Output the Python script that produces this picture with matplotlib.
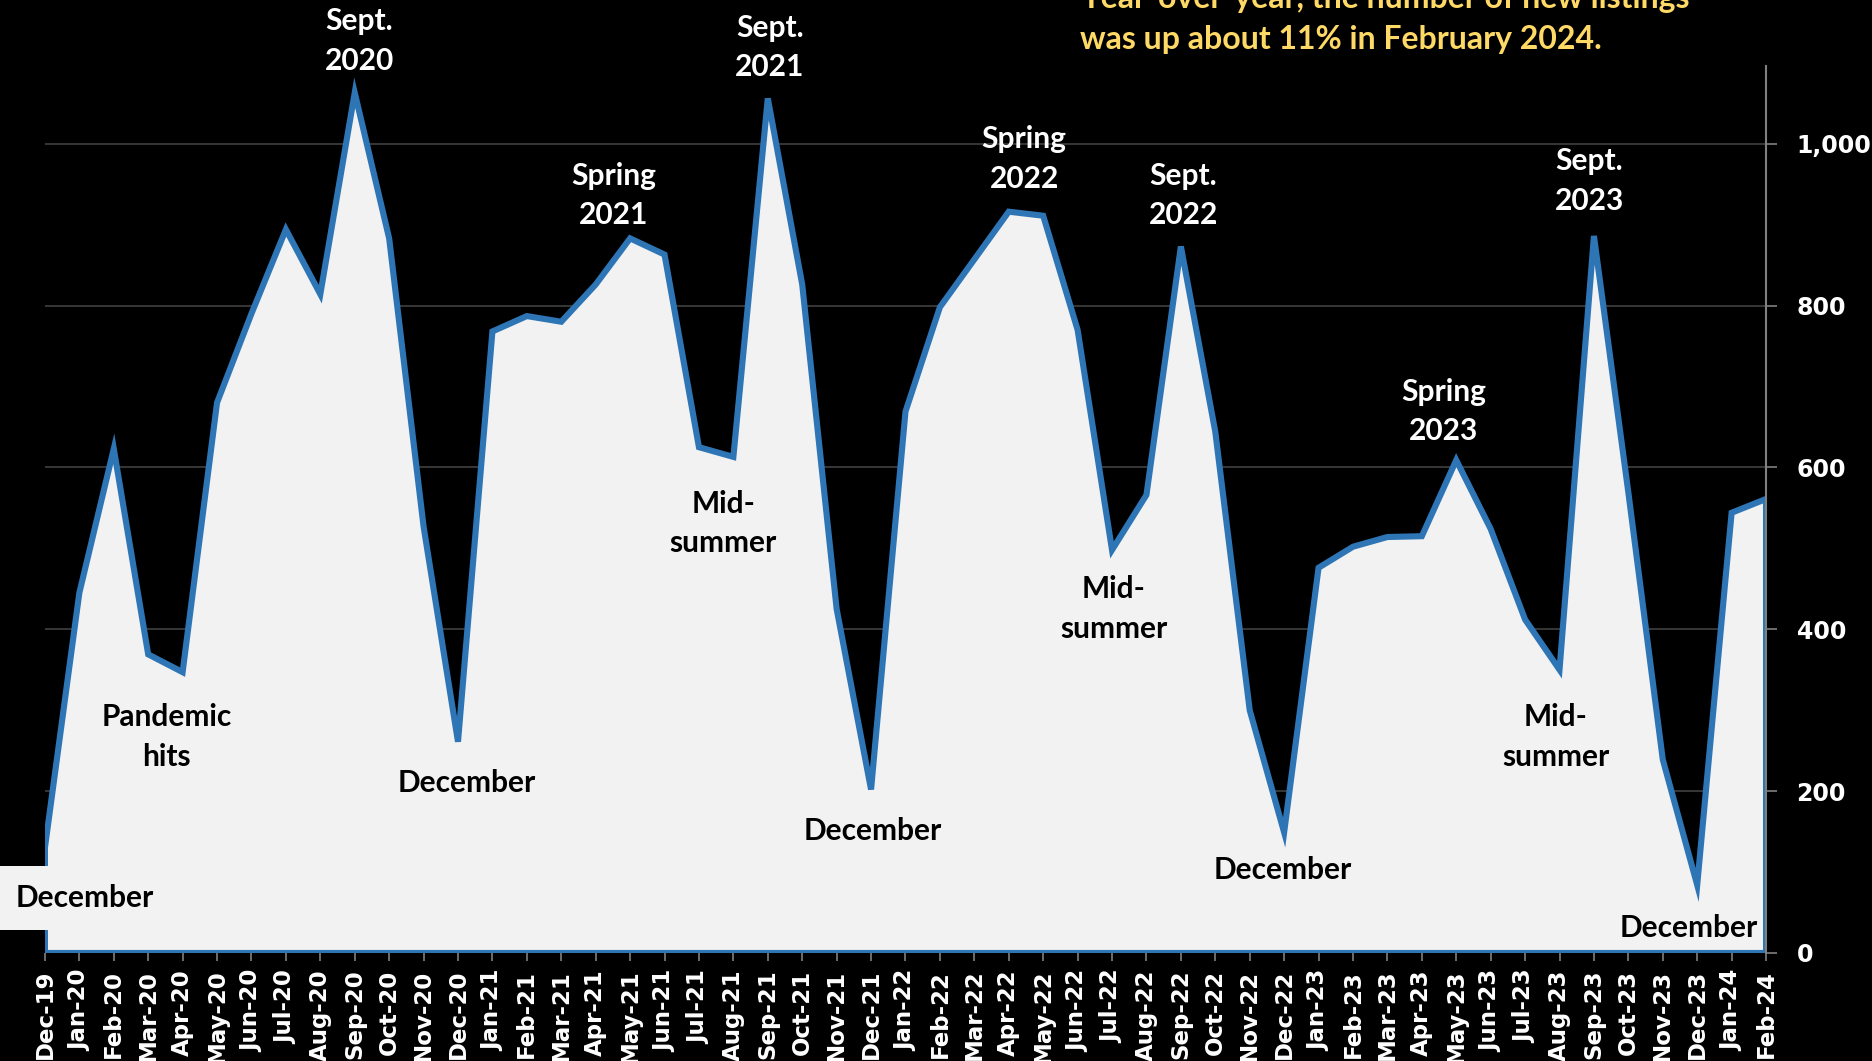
import matplotlib
matplotlib.use("Agg")
import matplotlib.pyplot as plt
import numpy as np

months = ["Dec-19", "Jan-20", "Feb-20", "Mar-20", "Apr-20", "May-20", "Jun-20", "Jul-20",
          "Aug-20", "Sep-20", "Oct-20", "Nov-20", "Dec-20", "Jan-21", "Feb-21", "Mar-21",
          "Apr-21", "May-21", "Jun-21", "Jul-21", "Aug-21", "Sep-21", "Oct-21", "Nov-21",
          "Dec-21", "Jan-22", "Feb-22", "Mar-22", "Apr-22", "May-22", "Jun-22", "Jul-22",
          "Aug-22", "Sep-22", "Oct-22", "Nov-22", "Dec-22", "Jan-23", "Feb-23", "Mar-23",
          "Apr-23", "May-23", "Jun-23", "Jul-23", "Aug-23", "Sep-23", "Oct-23", "Nov-23",
          "Dec-23", "Jan-24", "Feb-24"]
listings = [130, 445, 623, 369, 347, 680, 790, 894, 814, 1063, 883, 527, 261, 768, 787, 780,
            826, 883, 863, 625, 613, 1056, 826, 425, 202, 669, 798, 857, 916, 911, 770, 498,
            566, 873, 644, 300, 149, 476, 502, 514, 515, 609, 524, 412, 350, 886, 569, 239,
            84, 544, 561]

# annotation text, position (month index, value), colour
notes = [
    ("Sept.\n2020", 9.13, 1127, "white"),
    ("Pandemic\nhits", 3.54, 267, "black"),
    ("December", 12.25, 210, "black"),
    ("Sept.\n2021", 21.06, 1119, "white"),
    ("Spring\n2021", 16.52, 936, "white"),
    ("Mid-\nsummer", 19.71, 531, "black"),
    ("December", 24.05, 151, "black"),
    ("Spring\n2022", 28.45, 981, "white"),
    ("Sept.\n2022", 33.07, 936, "white"),
    ("Mid-\nsummer", 31.05, 425, "black"),
    ("December", 35.95, 103, "black"),
    ("Spring\n2023", 40.63, 669, "white"),
    ("Sept.\n2023", 44.86, 954, "white"),
    ("Mid-\nsummer", 43.89, 267, "black"),
    ("December", 47.74, 31, "black"),
]

blue = "#2e75b6"
fill = "#f2f2f2"

fig = plt.figure(figsize=(18.72, 10.61), dpi=100, facecolor="black")
ax = fig.add_axes([0.024, 0.1018, 0.9194, 0.836])
ax.set_facecolor("black")

x = np.arange(len(listings))
px = np.concatenate([x, [x[-1], x[0]]])
py = np.concatenate([listings, [0, 0]])
ax.fill(px, py, facecolor=fill, edgecolor=blue, linewidth=4.4, joinstyle="miter", zorder=2)

ax.set_xlim(0, len(listings) - 1)
ax.set_ylim(0, 1096)
ax.set_yticks([0, 200, 400, 600, 800, 1000])
ax.set_yticklabels(["0", "200", "400", "600", "800", "1,000"])
ax.yaxis.tick_right()
ax.grid(axis="y", color="#404040", linewidth=1.2, zorder=0)
ax.set_axisbelow(True)
for side in ["top", "left", "bottom"]:
    ax.spines[side].set_visible(False)
ax.spines["right"].set_color("#808080")
ax.spines["right"].set_linewidth(1.5)

ax.set_xticks(x)
ax.set_xticklabels(months, rotation=90)
ax.tick_params(axis="x", colors="#808080", length=6, width=1.2, pad=6)
ax.tick_params(axis="y", colors="#808080", length=8, width=1.2, pad=14)
for lab in ax.get_xticklabels():
    lab.set_color("white")
    lab.set_fontweight("bold")
    lab.set_fontsize(16.5)
for lab in ax.get_yticklabels():
    lab.set_color("white")
    lab.set_fontweight("bold")
    lab.set_fontsize(17)

for text, nx, ny, col in notes:
    ax.text(nx, ny, text, color=col, fontsize=21.5, fontweight="bold", family="Lato",
            ha="center", va="center", linespacing=1.5, clip_on=False, zorder=5)

ax.text(1.15, 68, "December", color="black", fontsize=21.5, fontweight="bold", family="Lato",
        ha="center", va="center", clip_on=False, zorder=5,
        bbox=dict(boxstyle="square,pad=0.6", facecolor=fill, edgecolor="none"))

# headline sits partly above the top edge, as in the original slide
fig.text(0.577, 0.982, "Year-over-year, the number of new listings\nwas up about 11% in February 2024.",
         color="#ffd966", fontsize=23, fontweight="bold", family="Lato",
         ha="left", va="center", linespacing=1.5)

fig.savefig("out.png", dpi=100, facecolor="black")
